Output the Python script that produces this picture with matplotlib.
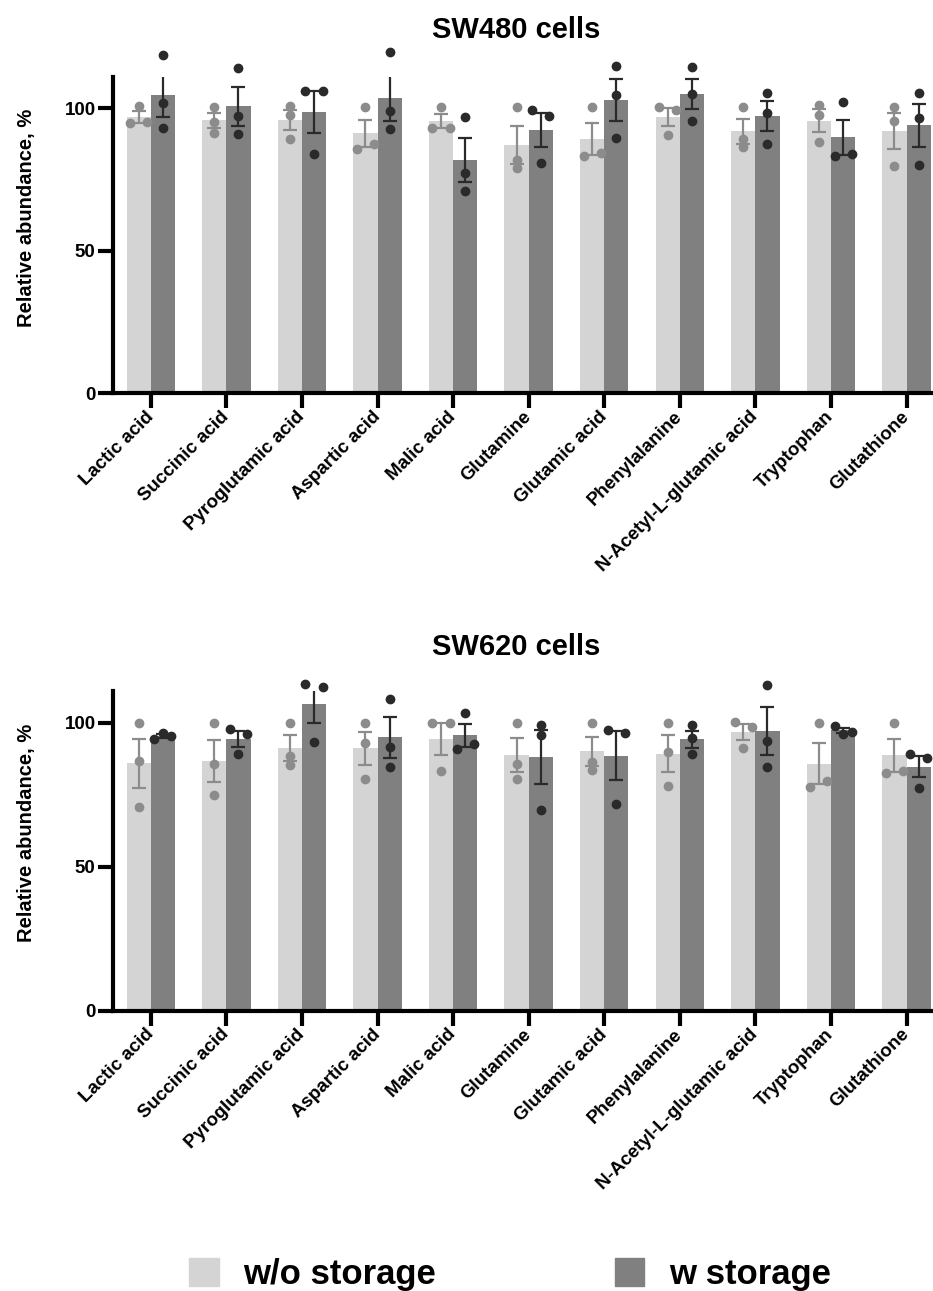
import numpy as np
import matplotlib
matplotlib.use('Agg')
import matplotlib.pyplot as plt
from matplotlib.patches import Patch

plt.rcParams['font.family'] = ['Liberation Sans', 'DejaVu Sans']
plt.rcParams['font.weight'] = 'bold'
plt.rcParams['axes.labelweight'] = 'bold'

metabolites = ['Lactic acid', 'Succinic acid', 'Pyroglutamic acid', 'Aspartic acid',
               'Malic acid', 'Glutamine', 'Glutamic acid', 'Phenylalanine',
               'N-Acetyl-L-glutamic acid', 'Tryptophan', 'Glutathione']

# three replicates per metabolite, relative abundance in %
sw480_wo = [[100.9, 94.7, 95.3], [100.6, 95.3, 91.5], [100.9, 97.7, 89.2],
            [100.6, 85.6, 87.5], [100.6, 93.0, 93.0], [100.6, 81.9, 79.2],
            [100.6, 83.3, 84.2], [100.6, 99.3, 90.6], [100.6, 89.1, 86.3],
            [101.2, 97.7, 88.1], [100.6, 95.6, 79.8]]
sw480_w = [[118.8, 101.8, 93.2], [114.0, 97.3, 91.0], [106.2, 106.2, 84.0],
           [119.6, 99.1, 92.6], [97.1, 77.4, 71.1], [99.4, 97.3, 80.7],
           [114.9, 104.6, 89.5], [114.4, 105.0, 95.7], [105.5, 98.5, 87.5],
           [102.2, 83.4, 83.9], [105.3, 96.5, 80.1]]
sw620_wo = [[100.0, 86.7, 70.9], [100.0, 85.5, 74.9], [100.0, 88.4, 85.3],
            [100.0, 92.8, 80.5], [100.0, 100.0, 83.4], [100.0, 85.5, 80.5],
            [100.0, 86.5, 83.6], [100.0, 89.9, 78.0], [100.1, 98.6, 91.1],
            [100.0, 77.6, 79.6], [100.0, 82.7, 83.2]]
sw620_w = [[94.3, 96.5, 95.4], [97.8, 96.0, 89.0], [113.4, 112.3, 93.2],
           [108.2, 91.7, 84.7], [103.2, 90.9, 92.6], [99.2, 95.7, 69.7],
           [97.5, 96.5, 71.7], [99.2, 94.6, 89.0], [113.1, 93.6, 84.5],
           [99.0, 96.1, 96.9], [89.0, 87.6, 77.5]]

LIGHT = '#d4d4d4'
DARK = '#808080'
LIGHT_PT = '#8c8c8c'
DARK_PT = '#2a2a2a'


def swarm_offsets(vals, thr=2.3, half=0.113):
    # points closer than thr get pushed sideways (prism style)
    vals = np.asarray(vals)
    order = np.argsort(vals)
    offs = np.zeros(len(vals))
    clusters = []
    cur = [order[0]]
    for a, b in zip(order[:-1], order[1:]):
        if vals[b] - vals[a] < thr:
            cur.append(b)
        else:
            clusters.append(cur)
            cur = [b]
    clusters.append(cur)
    for c in clusters:
        c = sorted(c)
        if len(c) > 1:
            for k, v in zip(c, np.linspace(-half, half, len(c))):
                offs[k] = v
    return offs


def draw_panel(ax, wo, w):
    x = np.arange(len(metabolites))
    bw = 0.32
    for data, shift, bar_c, pt_c in [(wo, -bw / 2, LIGHT, LIGHT_PT), (w, bw / 2, DARK, DARK_PT)]:
        arr = np.array(data)
        mean = arr.mean(axis=1)
        sem = arr.std(axis=1, ddof=1) / np.sqrt(arr.shape[1])
        ax.bar(x + shift, mean, bw, color=bar_c, zorder=1)
        ax.errorbar(x + shift, mean, yerr=sem, fmt='none', ecolor=pt_c,
                    elinewidth=1.6, capsize=5, capthick=1.6, zorder=2)
        for i, vals in enumerate(arr):
            ax.plot(x[i] + shift + swarm_offsets(vals), vals, 'o', ms=6,
                    color=pt_c, zorder=3, clip_on=False)

    ax.set_xlim(-0.5, 10.35)
    ax.set_ylim(0, 111)
    ax.set_yticks([0, 50, 100])
    ax.set_xticks(x)
    ax.set_xticklabels(metabolites, rotation=45, ha='right', va='center',
                       rotation_mode='anchor', fontsize=13.5)
    for lab in ax.get_yticklabels():
        lab.set_fontsize(13.5)
    for s in ['top', 'right']:
        ax.spines[s].set_visible(False)
    for s in ['left', 'bottom']:
        ax.spines[s].set_linewidth(3)
    ax.tick_params(axis='both', width=3, length=11, direction='out')
    ax.tick_params(axis='y', pad=1.5)
    ax.tick_params(axis='x', pad=4)
    ax.set_ylabel('Relative abundance, %', fontsize=14.5)
    ax.yaxis.set_label_coords(-0.094, 0.555)


fig = plt.figure(figsize=(9.33, 12.91), dpi=100)
ax1 = fig.add_axes([0.1211, 0.6953, 0.8789, 0.2451])
ax2 = fig.add_axes([0.1211, 0.2169, 0.8789, 0.2479])

draw_panel(ax1, sw480_wo, sw480_w)
draw_panel(ax2, sw620_wo, sw620_w)

fig.text(0.553, 0.977, 'SW480 cells', ha='center', va='center', fontsize=21)
fig.text(0.553, 0.499, 'SW620 cells', ha='center', va='center', fontsize=21)

handles = [Patch(color=LIGHT, label='w/o storage'), Patch(color=DARK, label='w storage')]
fig.legend(handles=handles, ncol=2, frameon=False, fontsize=25,
           handlelength=0.85, handleheight=0.85, handletextpad=0.7,
           columnspacing=5.15, loc='lower left', bbox_to_anchor=(0.203, 0.0),
           borderpad=0, borderaxespad=0)

fig.savefig('out.png', dpi=100)
